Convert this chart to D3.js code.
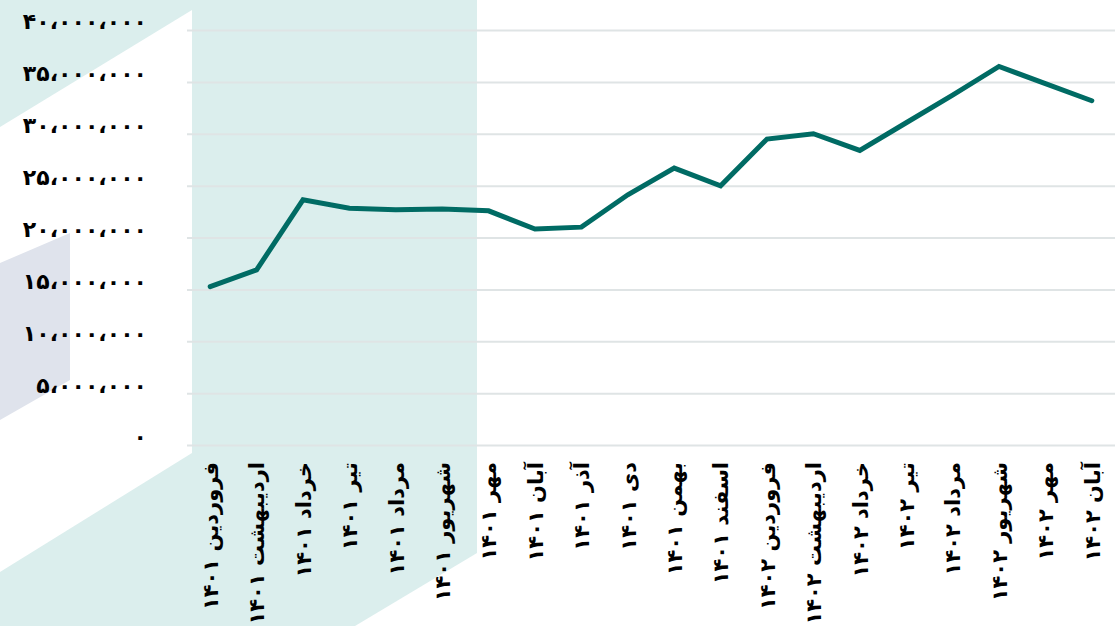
<!DOCTYPE html>
<html>
<head>
<meta charset="utf-8">
<script src="https://cdn.jsdelivr.net/npm/d3@7"></script>
<style>
  html, body { margin: 0; padding: 0; background: #fff; }
  svg { display: block; }
  text { font-family: "DejaVu Sans", sans-serif; font-weight: bold; fill: #000; }
</style>
</head>
<body>
<svg id="chart" width="1120" height="626"></svg>
<script>
'use strict';

// month labels (Persian calendar)
const months = [
  'فروردین ۱۴۰۱', 'اردیبهشت ۱۴۰۱', 'خرداد ۱۴۰۱', 'تیر ۱۴۰۱', 'مرداد ۱۴۰۱',
  'شهریور ۱۴۰۱', 'مهر ۱۴۰۱', 'آبان ۱۴۰۱', 'آذر ۱۴۰۱', 'دی ۱۴۰۱',
  'بهمن ۱۴۰۱', 'اسفند ۱۴۰۱', 'فروردین ۱۴۰۲', 'اردیبهشت ۱۴۰۲', 'خرداد ۱۴۰۲',
  'تیر ۱۴۰۲', 'مرداد ۱۴۰۲', 'شهریور ۱۴۰۲', 'مهر ۱۴۰۲', 'آبان ۱۴۰۲',
];

// values
const values = [
  15270000, 16880000, 23630000, 22830000, 22670000,
  22740000, 22570000, 20810000, 21000000, 24120000,
  26690000, 24990000, 29490000, 30000000, 28390000,
  31060000, 33720000, 36490000, 34830000, 33180000,
];

const yTicks = [0, 5000000, 10000000, 15000000, 20000000, 25000000, 30000000, 35000000, 40000000];

const svg = d3.select('#chart');
const height = 626;
const left = 187;
const right = 1115;
const bottom = 445;

// background decoration
const bg = svg.append('g');
bg.append('rect').attr('x', 0).attr('y', 0).attr('width', 477).attr('height', height).attr('fill', '#dbeeed');
const poly = (pts, fill) => bg.append('polygon').attr('points', pts.map(p => p.join(',')).join(' ')).attr('fill', fill);
poly([[0, 127], [192, 10], [192, 453], [0, 572]], '#ffffff');
poly([[0, 263], [70, 233], [70, 380], [0, 420]], '#dfe3ec');
poly([[477, 553], [477, 626], [355, 626]], '#ffffff');

const data = months.map((m, i) => ({ month: m, value: values[i] }));

const fa = d3.formatLocale({
  decimal: '.',
  thousands: '،',
  grouping: [3],
  currency: ['', ''],
  numerals: ['۰', '۱', '۲', '۳', '۴', '۵', '۶', '۷', '۸', '۹'],
});

// scales
const xScale = d3.scalePoint()
  .domain(months)
  .range([left, right])
  .padding(0.5);
const yScale = d3.scaleLinear()
  .domain([0, 40000000])
  .range([bottom, 30]);

// y axis + gridlines
const yAxis = svg.append('g')
  .attr('transform', `translate(${left},0)`)
  .call(d3.axisLeft(yScale)
    .tickValues(yTicks)
    .tickSize(-(right - left))
    .tickPadding(40)
    .tickFormat(fa.format(',')));
yAxis.select('.domain').remove();
yAxis.selectAll('.tick line').attr('stroke', '#dfe4e5').attr('stroke-width', 2);
yAxis.selectAll('.tick text')
  .attr('font-size', 22)
  .attr('font-family', '"DejaVu Sans", sans-serif')
  .attr('font-weight', 'bold')
  .attr('fill', '#000')
  .attr('dy', '-0.05em');

// x axis labels
const xAxis = svg.append('g')
  .attr('transform', `translate(0,${bottom})`)
  .call(d3.axisBottom(xScale).tickSize(0));
xAxis.select('.domain').remove();
xAxis.selectAll('.tick text')
  .attr('transform', 'rotate(-90)')
  .attr('x', -17)
  .attr('y', 0)
  .attr('dy', '0.35em')
  .attr('text-anchor', 'end')
  .attr('font-size', 21)
  .attr('font-family', '"DejaVu Sans", sans-serif')
  .attr('font-weight', 'bold')
  .attr('fill', '#000');

// line
const line = d3.line()
  .x(d => xScale(d.month))
  .y(d => yScale(d.value));

svg.append('path')
  .datum(data)
  .attr('fill', 'none')
  .attr('stroke', '#006b64')
  .attr('stroke-width', 5)
  .attr('stroke-linecap', 'round')
  .attr('d', line);
</script>
</body>
</html>
